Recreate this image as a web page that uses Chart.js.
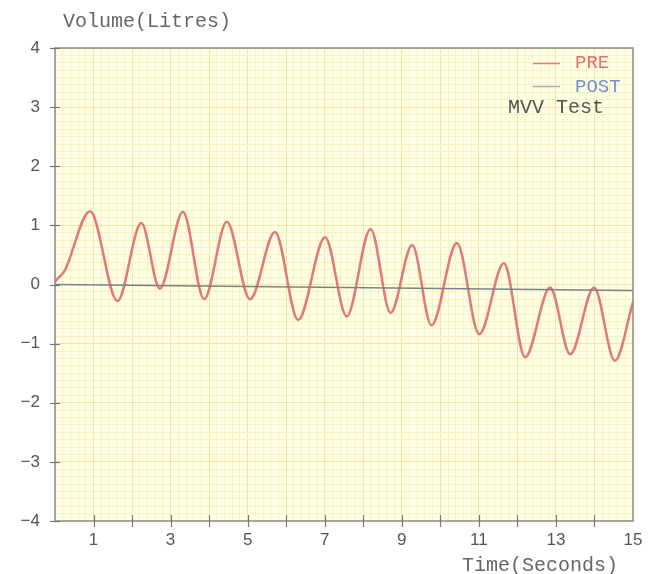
<!DOCTYPE html>
<html>
<head>
<meta charset="utf-8">
<title>MVV Test</title>
<script src="https://cdn.jsdelivr.net/npm/chart.js@4/dist/chart.umd.min.js"></script>
<style>
  html, body { margin: 0; padding: 0; background: #fff; }
  #wrap { width: 653px; height: 574px; }
</style>
</head>
<body>
<div id="wrap"><canvas id="mvvChart" width="653" height="574"></canvas></div>
<script>
// -- data (peaks / troughs) --
var PRE_TIME = [0, 0.1, 0.24, 0.91, 1.62, 2.24, 2.72, 3.32, 3.87, 4.46, 5.06, 5.71, 6.31, 7.01, 7.57, 8.19, 8.71, 9.27, 9.77, 10.43, 11.01, 11.65, 12.2, 12.85, 13.37, 13.99, 14.53, 15];
var PRE_VOLUME = [0.05, 0.12, 0.22, 1.24, -0.28, 1.04, -0.07, 1.23, -0.25, 1.06, -0.25, 0.89, -0.6, 0.8, -0.54, 0.94, -0.48, 0.67, -0.69, 0.7, -0.84, 0.36, -1.23, -0.05, -1.18, -0.05, -1.29, -0.3];
var POST_TIME = [0, 15];
var POST_VOLUME = [0, -0.1];

var X_LABELS = [1, 3, 5, 7, 9, 11, 13, 15];
var X_TICKS = [1, 2, 3, 4, 5, 6, 7, 8, 9, 10, 11, 12, 13, 14];
var Y_LABELS = [-4, -3, -2, -1, 0, 1, 2, 3, 4];

var MONO = "'Liberation Mono', 'DejaVu Sans Mono', monospace";
var SANS = "'Liberation Sans', Arial, sans-serif";

function toPoints(xs, ys) {
  return xs.map(function (x, i) { return { x: x, y: ys[i] }; });
}

function isInt(v) { return Math.abs(v - Math.round(v)) < 1e-6; }

// -- background, frame, tick marks and texts --
var paperPlugin = {
  id: 'paper',
  beforeDraw: function (chart) {
    var a = chart.chartArea, c = chart.ctx;
    c.save();
    c.fillStyle = '#fffee6';
    c.fillRect(a.left, a.top, a.right - a.left, a.bottom - a.top);
    c.restore();
  },
  afterDraw: function (chart) {
    var a = chart.chartArea, c = chart.ctx;
    var xs = chart.scales.x, ys = chart.scales.y;
    c.save();
    c.strokeStyle = '#8c8c8c';
    c.lineWidth = 1.5;
    c.strokeRect(a.left, a.top, a.right - a.left, a.bottom - a.top);

    // tick marks cross the axis lines
    c.strokeStyle = '#777';
    c.lineWidth = 1.2;
    X_TICKS.forEach(function (t) {
      var px = Math.round(xs.getPixelForValue(t)) + 0.5;
      c.beginPath();
      c.moveTo(px, a.bottom - 6);
      c.lineTo(px, a.bottom + 6);
      c.stroke();
    });
    Y_LABELS.forEach(function (v) {
      var py = Math.round(ys.getPixelForValue(v)) + 0.5;
      c.beginPath();
      c.moveTo(a.left - 5, py);
      c.lineTo(a.left + 5, py);
      c.stroke();
    });

    // axis titles
    c.fillStyle = '#666';
    c.font = '20px ' + MONO;
    c.textBaseline = 'middle';
    c.textAlign = 'left';
    c.fillText('Volume(Litres)', 63, 22);
    c.textAlign = 'right';
    c.fillText('Time(Seconds)', 618, 566);

    // legend
    c.lineWidth = 1.5;
    c.strokeStyle = '#e57a7a';
    c.beginPath(); c.moveTo(533, 63.5); c.lineTo(560, 63.5); c.stroke();
    c.strokeStyle = '#9fb3c4';
    c.beginPath(); c.moveTo(533, 86.5); c.lineTo(560, 86.5); c.stroke();
    c.textAlign = 'left';
    c.font = '19px ' + MONO;
    c.fillStyle = '#e46f6f';
    c.fillText('PRE', 575, 63);
    c.fillStyle = '#6f93d2';
    c.fillText('POST', 575, 87);
    c.font = '20px ' + MONO;
    c.fillStyle = '#555';
    c.fillText('MVV Test', 508, 108);
    c.restore();
  }
};

new Chart(document.getElementById('mvvChart'), {
  type: 'line',
  data: {
    datasets: [
      {
        label: 'POST',
        data: toPoints(POST_TIME, POST_VOLUME),
        borderColor: '#7d8288',
        borderWidth: 1.5,
        pointRadius: 0,
        tension: 0
      },
      {
        label: 'PRE',
        data: toPoints(PRE_TIME, PRE_VOLUME),
        borderColor: '#e27878',
        borderWidth: 2.5,
        pointRadius: 0,
        cubicInterpolationMode: 'monotone'
      }
    ]
  },
  options: {
    responsive: false,
    animation: false,
    events: [],
    layout: { padding: { top: 48, right: 20, left: 0, bottom: 0 } },
    plugins: {
      legend: { display: false },
      tooltip: { enabled: false }
    },
    scales: {
      x: {
        type: 'linear',
        min: 0,
        max: 15,
        border: { display: false },
        grid: {
          drawTicks: false,
          color: function (ctx) {
            return isInt(ctx.tick.value) ? '#efe79c' : '#f7f3bf';
          }
        },
        ticks: {
          stepSize: 0.2,
          autoSkip: false,
          maxRotation: 0,
          padding: 9,
          color: '#555',
          font: { family: SANS, size: 17 },
          callback: function (v) {
            var r = Math.round(v);
            return isInt(v) && X_LABELS.indexOf(r) >= 0 ? String(r) : '';
          }
        },
        afterFit: function (s) { s.height = 53; }
      },
      y: {
        min: -4,
        max: 4,
        border: { display: false },
        grid: {
          drawTicks: false,
          color: function (ctx) {
            return isInt(ctx.tick.value) ? '#efe79c' : '#f7f3bf';
          }
        },
        ticks: {
          stepSize: 0.125,
          autoSkip: false,
          padding: 15,
          color: '#555',
          font: { family: SANS, size: 17 },
          callback: function (v) {
            var r = Math.round(v);
            if (!isInt(v) || Y_LABELS.indexOf(r) < 0) return '';
            return r < 0 ? '\u2212' + Math.abs(r) : String(r);
          }
        },
        afterFit: function (s) { s.width = 55; }
      }
    }
  },
  plugins: [paperPlugin]
});
</script>
</body>
</html>
